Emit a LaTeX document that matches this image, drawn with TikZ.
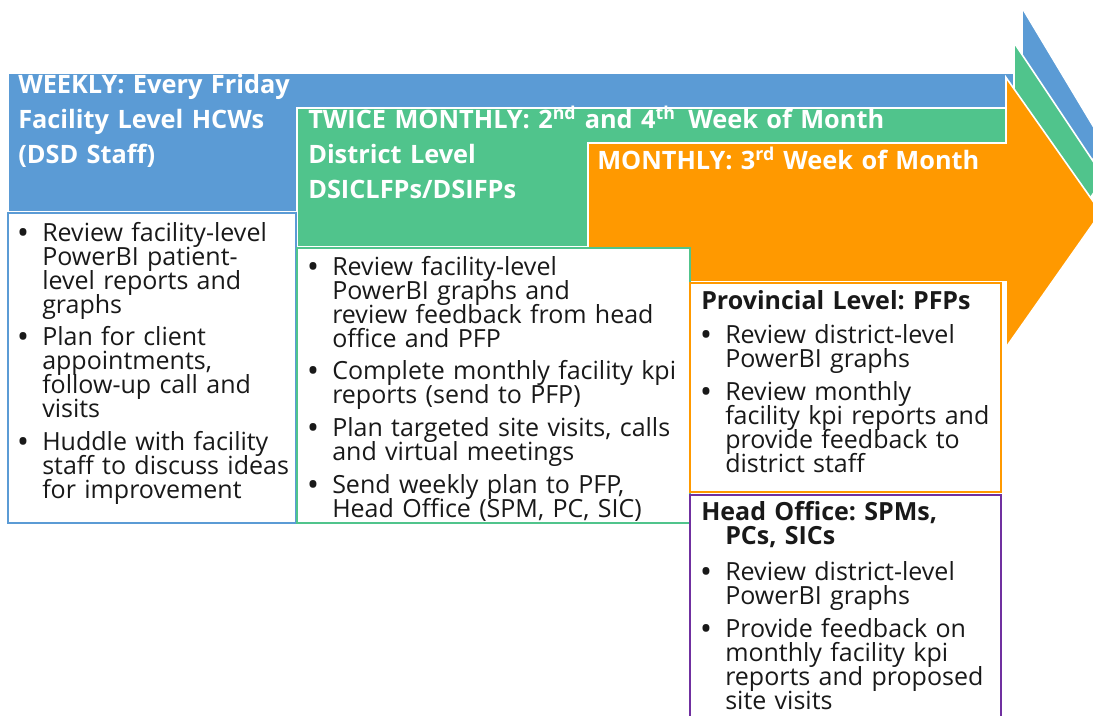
\documentclass[tikz,border=0pt]{standalone}
\usepackage{fontspec}
\setmainfont{Open Sans}
\usetikzlibrary{positioning}

\definecolor{wkblue}{RGB}{91,155,213}
\definecolor{twgreen}{RGB}{80,196,140}
\definecolor{moorange}{RGB}{255,153,0}
\definecolor{hopurple}{RGB}{112,48,160}

% one bullet with hanging indent, \\ only breaks the line
\newcommand{\bul}[1]{{\let\\\newline\hangindent=18pt\hangafter=1\makebox[18pt][l]{\bfseries\textbullet}#1\par}}
\frenchspacing

\tikzset{
  band/.style={fill=#1, draw=white, line width=1.2pt},
  listbox/.style={draw=#1, line width=1.5pt, fill=white},
  headtext/.style={anchor=base west, inner sep=0pt, text=white, text width=20cm, align=left,
    font=\bfseries\fontsize{19}{26.5}\selectfont},
  listtext/.style={anchor=base west, inner sep=0pt, text=black!90, text width=12cm, align=left,
    font=\fontsize{18.75}{18}\selectfont,
    execute at begin node={\setlength\parskip{6.5pt}\setlength\lineskiplimit{-20pt}}}
}

\begin{document}
\begin{tikzpicture}[x=0.75pt, y=-0.75pt]
  \clip (0,0) rectangle (1093,715);

  % the three block arrows
  \draw[band=wkblue] (8,73) -- (1022,73) -- (1022,7.5) -- (1103,142.5) -- (1022,277.5) -- (1022,212) -- (8,212) -- cycle;
  \draw[band=twgreen] (297,108) -- (1014,108) -- (1014,42.5) -- (1104,177.5) -- (1014,312.5) -- (1014,247) -- (297,247) -- cycle;
  \draw[band=moorange] (588,143) -- (1006,143) -- (1006,77.5) -- (1101,212.5) -- (1006,347.5) -- (1006,282) -- (588,282) -- cycle;

  % boxes below the arrows
  \draw[listbox=wkblue] (8,213) rectangle (296,523);
  \draw[listbox=twgreen] (297,248) rectangle (690,523);
  \draw[listbox=moorange] (690,283) rectangle (1001,492);
  \draw[listbox=hopurple] (690,494.5) rectangle (1001,725);

  % headings on the arrows
  \node[headtext] (weekly) at (18,93) {WEEKLY: Every Friday\\Facility Level HCWs\\(DSD Staff)};
  \node[headtext] (twice) at (308,128) {TWICE MONTHLY: 2\textsuperscript{nd} and 4\textsuperscript{th}\enspace Week of Month\\District Level\\DSICLFPs/DSIFPs};
  \node[headtext] (monthly) at (597,169) {MONTHLY: 3\textsuperscript{rd} Week of Month};

  % task lists
  \node[listtext] (facility) at (18,241) {%
    \bul{Review facility-level\\PowerBI patient-\\level reports and\\graphs}
    \bul{Plan for client\\appointments,\\follow-up call and\\visits}
    \bul{Huddle with facility\\staff to discuss ideas\\for improvement}};
  \node[listtext] (district) at (308,275) {%
    \bul{Review facility-level\\PowerBI graphs and\\review feedback from head\\office and PFP}
    \bul{Complete monthly facility kpi\\reports (send to PFP)}
    \bul{Plan targeted site visits, calls\\and virtual meetings}
    \bul{Send weekly plan to PFP,\\Head Office (SPM, PC, SIC)}};
  \node[listtext] (province) at (701,309) {%
    {\bfseries Provincial Level: PFPs}\par\vspace{1.5pt}
    \bul{Review district-level\\PowerBI graphs}
    \bul{Review monthly\\facility kpi reports and\\provide feedback to\\district staff}};
  \node[listtext] (office) at (701,520) {%
    {\let\\\newline\hangindent=18pt\hangafter=1\bfseries Head Office: SPMs,\\PCs, SICs\par}\vspace{3pt}
    \bul{Review district-level\\PowerBI graphs}
    \bul{Provide feedback on\\monthly facility kpi\\reports and proposed\\site visits}};
\end{tikzpicture}
\end{document}
